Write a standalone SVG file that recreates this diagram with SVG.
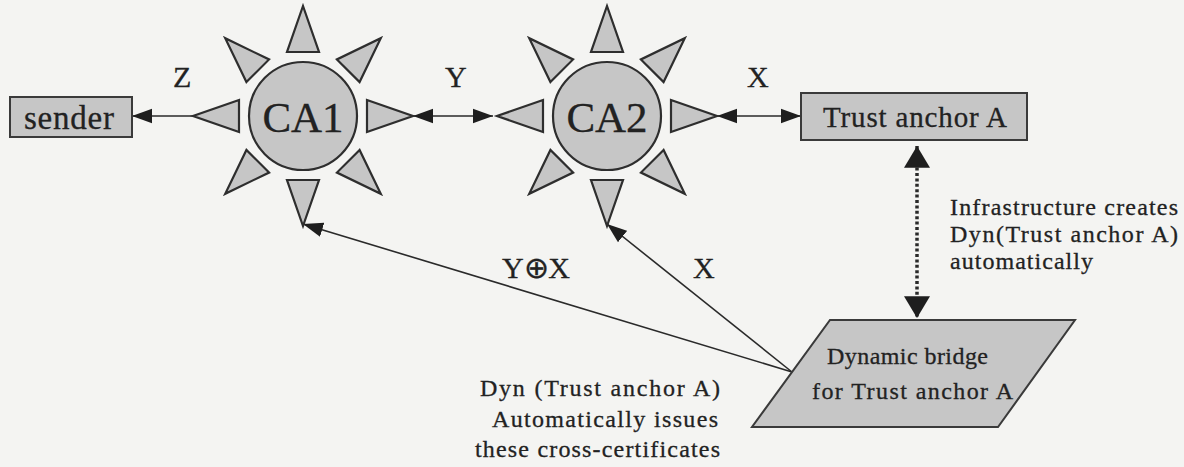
<svg xmlns="http://www.w3.org/2000/svg" xmlns:xlink="http://www.w3.org/1999/xlink" width="1184" height="467" viewBox="0 0 1184 467">
<style>
  .bg { fill: #f4f4f2; }
  .shape { fill: #c6c6c6; stroke: #2e2e2e; stroke-width: 2.2; }
  .box { fill: #c6c6c6; stroke: #3a3a3a; stroke-width: 2; }
  .conn { fill: none; stroke: #2a2a2a; stroke-width: 1.6; }
  .dotted { fill: none; stroke: #2a2a2a; stroke-width: 3.5; stroke-dasharray: 3 2.4; }
  text { font-family: "Liberation Serif", "Times New Roman", serif; fill: #222; stroke: #222; stroke-width: 0.3; }
  .ca { font-size: 43px; text-anchor: middle; }
  .lbl { font-size: 30px; }
  .box-t { font-size: 33px; }
  .box-ta { font-size: 29px; }
  .note { font-size: 24px; }
</style>
<defs>
  <polygon id="ray" class="shape" points="-16,-64 16,-64 0,-110"/>
  <marker id="ah" markerUnits="userSpaceOnUse" markerWidth="20" markerHeight="16" viewBox="0 0 19 14" refX="19" refY="7" orient="auto-start-reverse">
    <path d="M0,0 L19,7 L0,14 z" fill="#1e1e1e"/>
  </marker>
  <marker id="ahBig" markerUnits="userSpaceOnUse" markerWidth="22" markerHeight="26" viewBox="0 0 21 25" refX="21" refY="12.5" orient="auto-start-reverse">
    <path d="M0,0 L21,12.5 L0,25 z" fill="#1e1e1e"/>
  </marker>
</defs>
<rect class="bg" x="0" y="0" width="1184" height="467"/>

<g id="connectors">
  <line class="conn" x1="195" y1="116" x2="132" y2="116" marker-end="url(#ah)"/>
  <line class="conn" x1="413" y1="116" x2="493" y2="116" marker-start="url(#ah)" marker-end="url(#ah)"/>
  <line class="conn" x1="717" y1="116" x2="801" y2="116" marker-start="url(#ah)" marker-end="url(#ah)"/>
  <line class="dotted" x1="917" y1="146" x2="917" y2="318" marker-start="url(#ahBig)" marker-end="url(#ahBig)"/>
  <line class="conn" x1="792" y1="372" x2="303" y2="224" marker-end="url(#ah)"/>
  <line class="conn" x1="792" y1="372" x2="607" y2="224" marker-end="url(#ah)"/>
</g>

<g id="sender">
  <rect class="box" x="10" y="97" width="122" height="40"/>
  <text class="box-t" x="24" y="129" textLength="90">sender</text>
</g>

<g id="ca1">
  <use xlink:href="#ray" transform="translate(303,116)"/>
  <use xlink:href="#ray" transform="translate(303,116) rotate(45)"/>
  <use xlink:href="#ray" transform="translate(303,116) rotate(90)"/>
  <use xlink:href="#ray" transform="translate(303,116) rotate(135)"/>
  <use xlink:href="#ray" transform="translate(303,116) rotate(180)"/>
  <use xlink:href="#ray" transform="translate(303,116) rotate(225)"/>
  <use xlink:href="#ray" transform="translate(303,116) rotate(270)"/>
  <use xlink:href="#ray" transform="translate(303,116) rotate(315)"/>
  <circle class="shape" cx="303" cy="116" r="54"/>
  <text class="ca" x="303" y="132">CA1</text>
</g>

<g id="ca2">
  <use xlink:href="#ray" transform="translate(607,116)"/>
  <use xlink:href="#ray" transform="translate(607,116) rotate(45)"/>
  <use xlink:href="#ray" transform="translate(607,116) rotate(90)"/>
  <use xlink:href="#ray" transform="translate(607,116) rotate(135)"/>
  <use xlink:href="#ray" transform="translate(607,116) rotate(180)"/>
  <use xlink:href="#ray" transform="translate(607,116) rotate(225)"/>
  <use xlink:href="#ray" transform="translate(607,116) rotate(270)"/>
  <use xlink:href="#ray" transform="translate(607,116) rotate(315)"/>
  <circle class="shape" cx="607" cy="116" r="54"/>
  <text class="ca" x="607" y="132">CA2</text>
</g>

<g id="trust-anchor">
  <rect class="box" x="801" y="93" width="226" height="47"/>
  <text class="box-ta" x="823" y="127" textLength="184">Trust anchor A</text>
</g>

<g id="dynamic-bridge">
  <polygon class="box" points="830,320 1075,320 998,427 752,427"/>
  <text class="note" x="827" y="364" textLength="161">Dynamic bridge</text>
  <text class="note" x="812" y="399" textLength="201">for Trust anchor A</text>
</g>

<g id="labels">
  <text class="lbl" x="173" y="87">Z</text>
  <text class="lbl" x="445" y="87">Y</text>
  <text class="lbl" x="747" y="87">X</text>
  <text class="lbl" x="502" y="278" textLength="68">Y⊕X</text>
  <text class="lbl" x="693" y="278">X</text>
  <text class="note" x="950" y="215" textLength="228">Infrastructure creates</text>
  <text class="note" x="950" y="242" textLength="228">Dyn(Trust anchor A)</text>
  <text class="note" x="950" y="269" textLength="143">automatically</text>
  <text class="note" x="480" y="396" textLength="240">Dyn (Trust anchor A)</text>
  <text class="note" x="492" y="427" textLength="226">Automatically issues</text>
  <text class="note" x="475" y="457" textLength="245">these cross-certificates</text>
</g>
</svg>
